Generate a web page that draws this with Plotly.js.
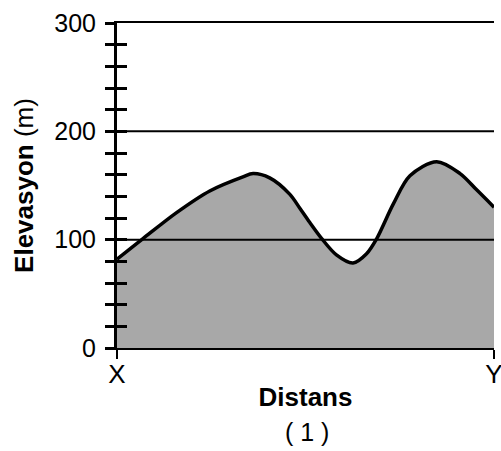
<!DOCTYPE html>
<html>
<head>
<meta charset="utf-8">
<script src="https://cdn.plot.ly/plotly-3.0.1.min.js"></script>
<style>html,body{margin:0;padding:0;background:#fff;}#chart{width:501px;height:451px;}</style>
</head>
<body>
<div id="chart"></div>
<script>
// Distance along profile (0 = X, 100 = Y) and elevation (m)
const distance = [0, 6.9, 15.8, 24.6, 33.4, 36.1, 40.5, 45.8, 48.5, 51.1, 54.3, 58.2, 62.6, 66.2, 68.9, 73.3, 77.7, 84.8, 91.0, 95.4, 100];
const elevation = [82, 101, 125, 145, 158, 161, 157, 142, 129, 116, 101, 86, 78.5, 87, 101, 133, 159, 172, 161, 146, 130];
const xTickVals = [0, 100];
const xTickText = ['X', 'Y'];
const yMajorTicks = [0, 100, 200, 300];
const yMinorTicks = [0, 20, 40, 60, 80, 100, 120, 140, 160, 180, 200, 220, 240, 260, 280, 300];
const gridLevels = [100, 200];

const FONT = 'Liberation Sans, Arial, Helvetica, sans-serif';

const trace = {
  x: distance, y: elevation, type: 'scatter', mode: 'lines',
  line: {color: '#000', width: 3.5, shape: 'spline', smoothing: 0.9},
  fill: 'tozeroy', fillcolor: '#a8a8a8', hoverinfo: 'skip', showlegend: false
};
const dummy = {x: [0], y: [0], yaxis: 'y2', mode: 'markers', marker: {opacity: 0}, showlegend: false, hoverinfo: 'skip'};

const shapes = gridLevels.map(v => ({
  type: 'line', xref: 'paper', x0: 0, x1: 1, yref: 'y', y0: v, y1: v,
  line: {color: '#000', width: 2}, layer: 'above'
}));

const layout = {
  width: 501, height: 451,
  margin: {l: 117, r: 7, t: 23, b: 103},
  paper_bgcolor: '#fff', plot_bgcolor: '#fff',
  font: {family: FONT, color: '#000', size: 25},
  showlegend: false,
  xaxis: {
    range: [0, 100], tickvals: xTickVals, ticktext: xTickText,
    ticks: 'outside', ticklen: 9, tickwidth: 2, tickcolor: '#000',
    showline: true, linewidth: 2, linecolor: '#000', mirror: true,
    showgrid: false, zeroline: false, layer: 'above traces',
    ticklabeloverflow: 'allow', automargin: false, ticklabelstandoff: -7,
    tickfont: {family: FONT, size: 26},
    title: {text: '<b>Distans</b>', font: {family: FONT, size: 26}, standoff: 0}
  },
  yaxis: {
    range: [0, 300], tickvals: yMajorTicks, ticktext: yMajorTicks.map(String),
    ticks: 'outside', ticklen: 9, tickwidth: 3, tickcolor: '#000',
    minor: {tickvals: yMinorTicks, ticks: 'outside', ticklen: 9, tickwidth: 3, tickcolor: '#000', showgrid: false},
    showline: true, linewidth: 3, linecolor: '#000',
    showgrid: false, zeroline: false, layer: 'above traces', automargin: false,
    ticklabelstandoff: 4,
    tickfont: {family: FONT, size: 25},
    title: {text: '<b>Elevasyon</b> (m)', font: {family: FONT, size: 26}, standoff: 14}
  },
  yaxis2: {
    overlaying: 'y', side: 'left', range: [0, 300], tickvals: yMinorTicks,
    ticktext: yMinorTicks.map(() => ''),
    ticks: 'inside', ticklen: 10, tickwidth: 3, tickcolor: '#000',
    showline: false, showgrid: false, zeroline: false, layer: 'above traces'
  },
  shapes: shapes,
  annotations: [{
    text: '( 1 )', xref: 'paper', yref: 'paper', x: 0.505, y: -0.259,
    xanchor: 'center', yanchor: 'middle', showarrow: false,
    font: {family: FONT, size: 25, color: '#000'}
  }]
};

Plotly.newPlot('chart', [trace, dummy], layout, {displayModeBar: false, staticPlot: true});
</script>
</body>
</html>
